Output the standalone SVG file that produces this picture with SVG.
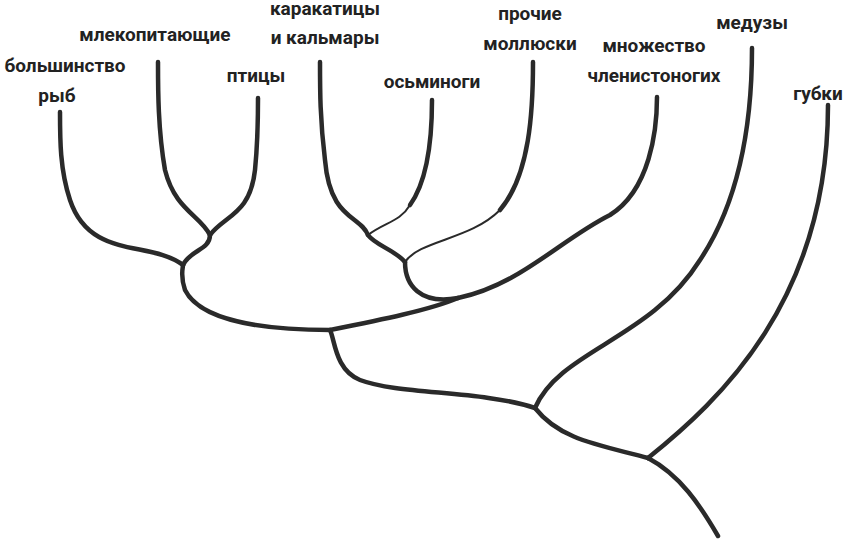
<svg xmlns="http://www.w3.org/2000/svg" width="846" height="540" viewBox="0 0 846 540">
<style>
.b{fill:none;stroke:#2a2a2a;stroke-width:4.5;stroke-linecap:round}
.t{fill:none;stroke:#2a2a2a;stroke-width:2}
text{font-family:Roboto,"Liberation Sans",sans-serif;font-weight:700;font-size:19px;fill:#222;text-anchor:middle}
</style>
<rect width="846" height="540" fill="#fff"/>
<g id="connectors">
<path class="b" d="M718,536 C700,505 680,475 648,458"/>
<path class="b" d="M648,458 C720,400 828,300 828,105"/>
<path class="b" d="M648,458 C600,445 560,440 535,408"/>
<path class="b" d="M535,408 C560,350 650,340 700,260 C740,200 752,120 752,48"/>
<path class="b" d="M535,408 C480,390 400,395 360,380 C335,370 335,340 330,330"/>
<path class="b" d="M330,330 C260,330 200,320 185,290 C180,275 183,268 183,265"/>
<path class="b" d="M330,330 C380,320 430,310 458,298"/>
<path class="b" d="M183,265 C150,240 90,260 70,200 C60,170 60,140 60,112"/>
<path class="b" d="M183,265 C190,250 210,250 210,235"/>
<path class="b" d="M210,235 C200,215 175,210 165,170 C158,130 158,90 158,62"/>
<path class="b" d="M210,235 C225,215 250,215 255,170 C258,140 258,120 258,98"/>
<path class="b" d="M458,298 C420,305 405,285 405,262"/>
<path class="b" d="M458,298 C520,285 560,240 610,215 C650,190 657,130 657,97"/>
<path class="b" d="M405,262 C395,250 375,245 368,235"/>
<path class="t" d="M405,262 C420,240 470,240 500,210"/>
<path class="b" d="M500,210 C530,175 533,110 533,62"/>
<path class="b" d="M368,235 C360,215 330,220 325,160 C320,120 320,90 320,62"/>
<path class="t" d="M368,235 C385,222 400,222 410,205"/>
<path class="b" d="M410,205 C428,180 432,140 432,100"/>
</g>
<g id="labels">
<text x="65" y="72">большинство</text>
<text x="57" y="102">рыб</text>
<text x="155" y="41">млекопитающие</text>
<text x="256" y="82">птицы</text>
<text x="325" y="15">каракатицы</text>
<text x="325" y="44">и кальмары</text>
<text x="432" y="88">осьминоги</text>
<text x="530" y="20">прочие</text>
<text x="530" y="50">моллюски</text>
<text x="654" y="52">множество</text>
<text x="654" y="82">членистоногих</text>
<text x="752" y="29">медузы</text>
<text x="818" y="100">губки</text>
</g>
</svg>
